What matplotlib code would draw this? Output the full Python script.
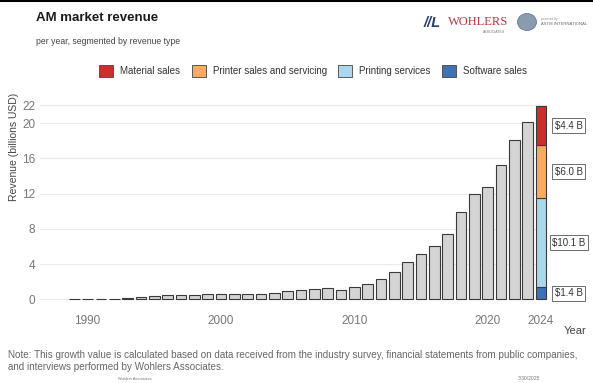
import matplotlib.pyplot as plt
from matplotlib.patches import Patch, Ellipse
from matplotlib.lines import Line2D

# Yearly AM market revenue, billions USD
years = list(range(1989, 2025))
totals = [0.05, 0.06, 0.07, 0.08, 0.15, 0.25, 0.38, 0.50, 0.52, 0.55,
          0.60, 0.68, 0.62, 0.58, 0.60, 0.78, 0.95, 1.06, 1.20, 1.28,
          1.10, 1.40, 1.78, 2.35, 3.10, 4.20, 5.20, 6.10, 7.40, 9.90,
          11.95, 12.80, 15.30, 18.10, 20.10]

# 2024 split by revenue type (bottom to top)
seg_names = ['Software sales', 'Printing services', 'Printer sales and servicing', 'Material sales']
seg_values = [1.4, 10.1, 6.0, 4.4]
seg_colors = ['#3d72b4', '#a8d7ee', '#fbab60', '#c8302c']
seg_labels = ['$1.4 B', '$10.1 B', '$6.0 B', '$4.4 B']

yticks = [0, 4, 8, 12, 16, 20, 22]
xticks = [1990, 2000, 2010, 2020, 2024]

plt.rcParams['font.family'] = ['Liberation Sans', 'DejaVu Sans']

W, H = 593, 383
fig = plt.figure(figsize=(W / 100, H / 100), dpi=100)
ax = fig.add_axes([0.0675, 0.2042, 0.8558, 0.5274])

def fx(px):
    return px / W

def fy(py):
    return 1 - py / H

# grey history bars
ax.bar(years[:-1], totals, width=0.8, color='#d4d4d4', edgecolor='#3a3a3a',
       linewidth=0.8, zorder=3)

# stacked 2024 bar
bottom = 0
for v, c in zip(seg_values, seg_colors):
    ax.bar(years[-1], v, bottom=bottom, width=0.8, color=c, edgecolor='#3a3a3a',
           linewidth=0.8, zorder=3)
    bottom += v

# boxed value labels next to the 2024 bar
bottom = 0
for v, lab in zip(seg_values, seg_labels):
    ax.text(2026.1, bottom + v / 2, lab, ha='center', va='center', fontsize=7,
            color='#333333', clip_on=False,
            bbox=dict(boxstyle='square,pad=0.25', fc='white', ec='#555555', lw=0.6))
    bottom += v

ax.set_xlim(1986.43, 2024.5)
ax.set_ylim(-0.6, 22.3)
ax.set_yticks(yticks)
ax.set_xticks(xticks)
ax.tick_params(axis='both', length=0, labelsize=8.5, labelcolor='#777777')
ax.tick_params(axis='x', pad=7)
ax.grid(axis='y', color='#ebebeb', linewidth=0.8, zorder=0)
for s in ax.spines.values():
    s.set_visible(False)

fig.text(fx(14), fy(147), 'Revenue (billions USD)', rotation=90, ha='center',
         va='center', fontsize=7.5, color='#444444')
fig.text(fx(575), fy(331), 'Year', ha='center', va='center', fontsize=8,
         color='#444444')

# title block
fig.text(fx(36), fy(18), 'AM market revenue', ha='left', va='center',
         fontsize=9.5, fontweight='bold', color='#1a1a1a')
fig.text(fx(36), fy(41), 'per year, segmented by revenue type', ha='left',
         va='center', fontsize=6.2, color='#444444')

# legend
handles = [Patch(facecolor=c, edgecolor='#444444', linewidth=0.6, label=n)
           for n, c in zip(seg_names[::-1], seg_colors[::-1])]
fig.legend(handles=handles, loc='center', bbox_to_anchor=(fx(313), fy(71)),
           ncol=4, frameon=False, fontsize=7, handlelength=1.45, handleheight=1.5,
           handletextpad=0.72, columnspacing=1.15, labelcolor='#333333')

# logos
fig.text(fx(424), fy(23), '//L', ha='left', va='center', fontsize=10.5,
         fontweight='bold', fontstyle='italic', color='#2a3f73')
fig.text(fx(448), fy(22), 'WOHLERS', ha='left', va='center', fontsize=9,
         family='Liberation Serif', color='#b8363f')
fig.text(fx(505), fy(32), 'ASSOCIATES', ha='right', va='center', fontsize=2.5,
         color='#777777')
fig.add_artist(Ellipse((fx(527), fy(22)), 19 / W, 17 / H, transform=fig.transFigure,
                       fc='#8a9bb0', ec='#5d6f86', lw=0.5))
fig.text(fx(541), fy(19), 'powered by', ha='left', va='center', fontsize=2.3,
         color='#888888')
fig.text(fx(541), fy(24), 'ASTM INTERNATIONAL', ha='left', va='center', fontsize=3,
         color='#666666')

# note and footer
fig.text(fx(8), fy(355), 'Note: This growth value is calculated based on data received '
         'from the industry survey, financial statements from public companies,',
         ha='left', va='center', fontsize=7.15, color='#666666')
fig.text(fx(8), fy(367), 'and interviews performed by Wohlers Associates.',
         ha='left', va='center', fontsize=7.15, color='#666666')
fig.text(fx(118), fy(379), 'Wohlers Associates', ha='left', va='center',
         fontsize=2.8, color='#777777')
fig.text(fx(540), fy(379), '3/30/2025', ha='right', va='center', fontsize=3.6,
         color='#777777')

fig.add_artist(Line2D([0, 1], [fy(0.5), fy(0.5)], transform=fig.transFigure,
                      color='black', linewidth=1.5))

fig.savefig('out.png', dpi=100)
